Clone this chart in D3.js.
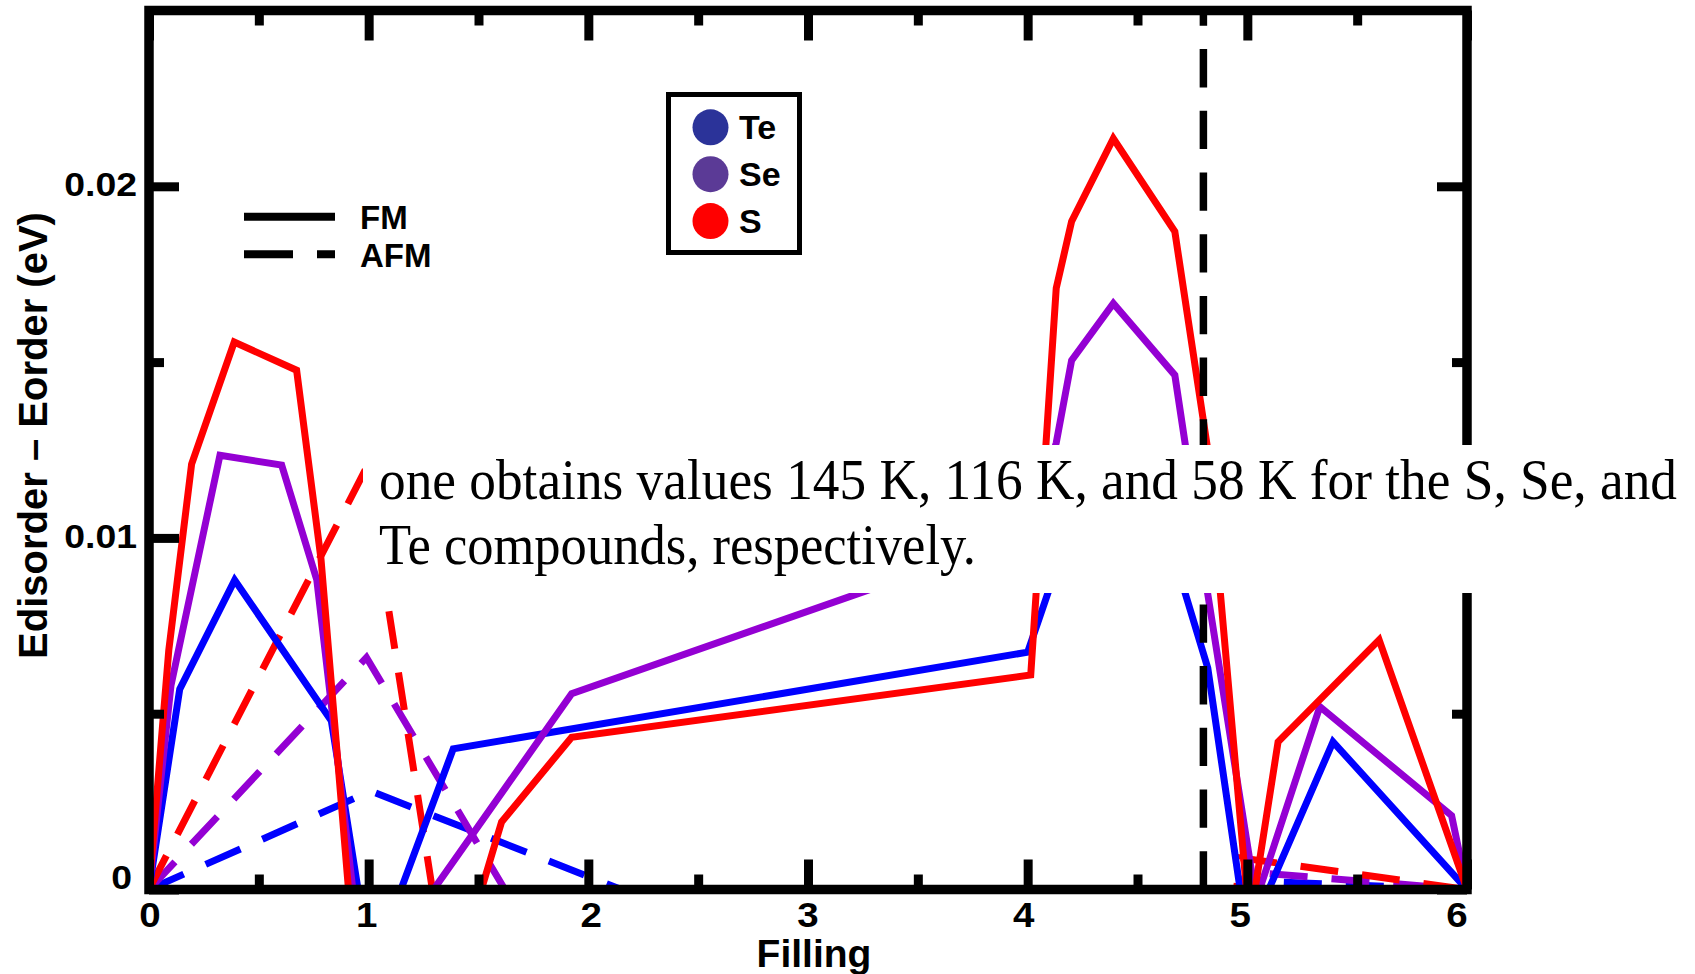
<!DOCTYPE html>
<html>
<head>
<meta charset="utf-8">
<script src="https://cdn.jsdelivr.net/npm/d3@7"></script>
<style>
  html, body { margin: 0; padding: 0; background: #fff; }
  svg { display: block; }
</style>
</head>
<body>
<svg id="chart" width="1695" height="974"></svg>
<script>
// Band filling (x) and E_disorder - E_order in eV (y) for each compound.
// Ferromagnetic (FM) reference
const fillTeFM = [0, 0.14, 0.39, 0.83, 1.01, 1.385, 4.0, 4.2, 4.39, 4.67, 4.82, 5.0, 5.39, 6.0];
const eTeFM    = [0, 0.0057, 0.0088, 0.0048, -0.0023, 0.0040, 0.00675, 0.0104, 0.0117, 0.0094, 0.0063, -0.0014, 0.0042, 0];

const fillSeFM = [0, 0.10, 0.323, 0.604, 0.764, 0.98, 1.924, 4.0, 4.13, 4.2, 4.39, 4.67, 4.82, 5.04, 5.33, 5.93, 6.0];
const eSeFM    = [0, 0.0058, 0.01235, 0.01207, 0.0088, -0.0028, 0.00557, 0.0101, 0.0127, 0.01505, 0.01667, 0.01463, 0.0084, -0.0003, 0.0052, 0.0021, 0];

const fillSFM  = [0, 0.09, 0.194, 0.388, 0.672, 0.783, 1.04, 1.605, 1.924, 4.014, 4.13, 4.2, 4.39, 4.67, 4.82, 5.01, 5.14, 5.60, 6.0];
const eSFM     = [0, 0.0068, 0.0121, 0.01557, 0.01477, 0.0094, -0.0099, 0.00192, 0.00433, 0.0061, 0.0171, 0.0190, 0.02136, 0.01871, 0.0125, -0.001, 0.0042, 0.0071, 0];

// Antiferromagnetic (AFM) reference
const fillTeAFM = [0, 1.01, 2.15, 4.96, 5.0, 6.0];
const eTeAFM    = [0, 0.0028, 0, 0, 0.00025, 0];

const fillSeAFM = [0, 0.99, 1.62, 4.96, 5.0, 6.0];
const eSeAFM    = [0, 0.0066, 0, 0, 0.0005, 0];

const fillSAFM  = [0, 0.99, 1.29, 4.95, 4.97, 6.0];
const eSAFM     = [0, 0.0120, 0, 0, 0.0009, 0];

const compounds   = ["Te", "Se", "S"];
const lineColors  = ["#0000ff", "#9400d3", "#ff0000"];
const dotColors   = ["#2b3399", "#5b3a96", "#ff0000"];
const orderLabels = ["FM", "AFM"];

const xTickValues = [0, 1, 2, 3, 4, 5, 6];
const xTickLabels = ["0", "1", "2", "3", "4", "5", "6"];
const yTickValues = [0, 0.01, 0.02];
const yTickLabels = ["0", "0.01", "0.02"];
const xMinorTicks = [0.5, 1.5, 2.5, 3.5, 4.5, 5.5];
const yMinorTicks = [0.005, 0.015];

const boundaryFilling = 4.8;
const xTitle = "Filling";
const yTitle = "Edisorder \u2013 Eorder (eV)";
const noteLines = [
  "one obtains values 145 K, 116 K, and 58 K for the S, Se, and",
  "Te compounds, respectively."
];

// ---------------------------------------------------------------
const svg = d3.select("#chart");
const plotLeft = 149, plotRight = 1467, plotTop = 10.5, plotBottom = 889.5;
const x = d3.scaleLinear().domain([0, 6]).range([plotLeft, plotRight]);
const y = d3.scaleLinear().domain([0, 0.025]).range([plotBottom, plotTop]);

const sans = "'Liberation Sans', Arial, Helvetica, sans-serif";
const serif = "'Liberation Serif', 'Times New Roman', Times, serif";

svg.append("defs").append("clipPath").attr("id", "plotClip")
  .append("rect")
  .attr("x", plotLeft).attr("y", plotTop)
  .attr("width", plotRight - plotLeft).attr("height", plotBottom - plotTop);

const plot = svg.append("g").attr("clip-path", "url(#plotClip)");

const line = d3.line().x(d => x(d[0])).y(d => y(d[1]));

const afmSeries = [
  [fillTeAFM, eTeAFM], [fillSeAFM, eSeAFM], [fillSAFM, eSAFM]
];
const fmSeries = [
  [fillTeFM, eTeFM], [fillSeFM, eSeFM], [fillSFM, eSFM]
];

afmSeries.forEach(([xs, ys], i) => {
  plot.append("path")
    .attr("d", line(d3.zip(xs, ys)))
    .attr("fill", "none")
    .attr("stroke", lineColors[i])
    .attr("stroke-width", 7)
    .attr("stroke-dasharray", "38,24")
    .attr("stroke-linejoin", "miter");
});

fmSeries.forEach(([xs, ys], i) => {
  plot.append("path")
    .attr("d", line(d3.zip(xs, ys)))
    .attr("fill", "none")
    .attr("stroke", lineColors[i])
    .attr("stroke-width", 7)
    .attr("stroke-linejoin", "miter")
    .attr("stroke-miterlimit", 4);
});

// vertical dashed marker
plot.append("line")
  .attr("x1", x(boundaryFilling)).attr("x2", x(boundaryFilling))
  .attr("y1", y(0)).attr("y2", y(0.025))
  .attr("stroke", "#000").attr("stroke-width", 7.5)
  .attr("stroke-dasharray", "38.3,23.4");

// ticks on all four sides, pointing inwards
function tickGroup(axisFn, scale, values, size, transform) {
  const g = svg.append("g").attr("transform", transform)
    .call(axisFn(scale).tickValues(values).tickSizeInner(-size).tickSizeOuter(0).tickFormat(""));
  g.select(".domain").remove();
  g.selectAll(".tick line").attr("stroke", "#000").attr("stroke-width", 9);
  g.selectAll(".tick text").remove();
}
const major = 30, minor = 15;
tickGroup(d3.axisBottom, x, xTickValues, major, `translate(0,${plotBottom})`);
tickGroup(d3.axisBottom, x, xMinorTicks, minor, `translate(0,${plotBottom})`);
tickGroup(d3.axisTop, x, xTickValues, major, `translate(0,${plotTop})`);
tickGroup(d3.axisTop, x, xMinorTicks, minor, `translate(0,${plotTop})`);
tickGroup(d3.axisLeft, y, yTickValues, major, `translate(${plotLeft},0)`);
tickGroup(d3.axisLeft, y, yMinorTicks, minor, `translate(${plotLeft},0)`);
tickGroup(d3.axisRight, y, yTickValues, major, `translate(${plotRight},0)`);
tickGroup(d3.axisRight, y, yMinorTicks, minor, `translate(${plotRight},0)`);

// frame
svg.append("rect")
  .attr("x", plotLeft).attr("y", plotTop)
  .attr("width", plotRight - plotLeft).attr("height", plotBottom - plotTop)
  .attr("fill", "none").attr("stroke", "#000").attr("stroke-width", 9.5);

// tick labels (slightly widened bold digits)
const xLabelNudge = [1, -2, 3, 0, -4, -7, -10];
svg.append("g").selectAll("g").data(xTickValues).join("g")
  .attr("transform", (d, i) => `translate(${x(d) + xLabelNudge[i]},927) scale(1.1,1)`)
  .append("text")
  .attr("text-anchor", "middle")
  .attr("font-family", sans).attr("font-weight", "bold").attr("font-size", 35)
  .text((d, i) => xTickLabels[i]);

svg.append("g").selectAll("g").data(yTickValues).join("g")
  .attr("transform", (d, i) => i === 0
    ? `translate(132,${y(d) - 1}) scale(1.1,1)`
    : `translate(137,${y(d) + 10}) scale(1.1,1)`)
  .append("text")
  .attr("text-anchor", "end")
  .attr("font-family", sans).attr("font-weight", "bold").attr("font-size", 34)
  .text((d, i) => yTickLabels[i]);

// axis titles
svg.append("text")
  .attr("x", 814).attr("y", 967)
  .attr("text-anchor", "middle")
  .attr("font-family", sans).attr("font-weight", "bold").attr("font-size", 39)
  .text(xTitle);

svg.append("text")
  .attr("transform", "translate(47,435.5) rotate(-90)")
  .attr("text-anchor", "middle")
  .attr("font-family", sans).attr("font-weight", "bold").attr("font-size", 40)
  .text(yTitle);

// FM / AFM line-style key
const styleKey = svg.append("g");
orderLabels.forEach((lab, i) => {
  const ly = [216.7, 254.3][i];
  styleKey.append("line")
    .attr("x1", 244).attr("x2", 335).attr("y1", ly).attr("y2", ly)
    .attr("stroke", "#000").attr("stroke-width", 8)
    .attr("stroke-dasharray", i === 1 ? "49,24" : null);
  styleKey.append("text")
    .attr("x", 360).attr("y", ly + 12.3)
    .attr("font-family", sans).attr("font-weight", "bold").attr("font-size", 33)
    .text(lab);
});

// compound key
const key = svg.append("g");
key.append("rect")
  .attr("x", 668.5).attr("y", 94.5).attr("width", 131).attr("height", 158)
  .attr("fill", "#fff").attr("stroke", "#000").attr("stroke-width", 5);
compounds.forEach((c, i) => {
  const cy = 127.3 + i * 46.9;
  key.append("circle")
    .attr("cx", 710.5).attr("cy", cy).attr("r", 18)
    .attr("fill", dotColors[i]);
  key.append("text")
    .attr("x", 739).attr("y", cy + 11.5)
    .attr("font-family", sans).attr("font-weight", "bold").attr("font-size", 34)
    .text(c);
});

// text note laid over the plot
const note = svg.append("g");
note.append("rect")
  .attr("x", 363).attr("y", 445).attr("width", 1695 - 363).attr("height", 148)
  .attr("fill", "#fff");
const noteBaselines = [498.5, 563.5];
const noteWidths = [1298, 597];
noteLines.forEach((t, i) => {
  note.append("g")
    .attr("transform", `translate(379,${noteBaselines[i]}) scale(1,1.08)`)
    .append("text")
    .attr("x", 0).attr("y", 0)
    .attr("font-family", serif).attr("font-size", 53.2)
    .attr("textLength", noteWidths[i])
    .attr("lengthAdjust", "spacingAndGlyphs")
    .attr("fill", "#000")
    .text(t);
});
</script>
</body>
</html>
